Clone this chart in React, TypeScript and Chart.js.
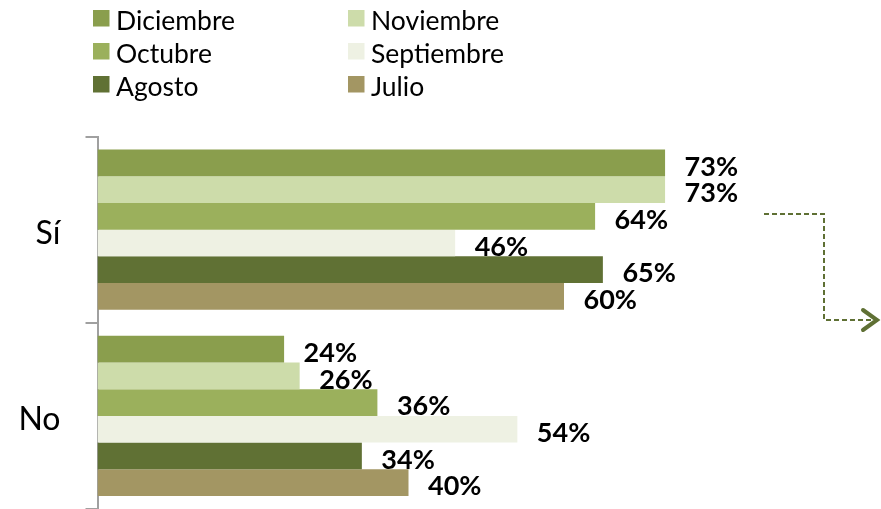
import React, { useEffect, useRef } from "react";
import { Chart, registerables } from "chart.js";

Chart.register(...registerables);

const categories = ["Sí", "No"];
const seriesNames = ["Diciembre", "Noviembre", "Octubre", "Septiembre", "Agosto", "Julio"];
const diciembre = [73, 24];
const noviembre = [73, 26];
const octubre = [64, 36];
const septiembre = [46, 54];
const agosto = [65, 34];
const julio = [60, 40];
const seriesValues = [diciembre, noviembre, octubre, septiembre, agosto, julio];
const seriesColors = ["#8a9e4d", "#cddcaa", "#9bb05c", "#eef1e3", "#607134", "#a39663"];

const FONT = "Lato, 'Open Sans', sans-serif";

const legendPlugin = {
  id: "gridLegend",
  afterDraw(chart: any) {
    const ctx = chart.ctx;
    ctx.save();
    const colX = [93, 348];
    const box = 16.5;
    chart.data.datasets.forEach((ds: any, i: number) => {
      const col = i % 2;
      const row = Math.floor(i / 2);
      const x = colX[col];
      const top = 10 + row * 33;
      ctx.fillStyle = ds.backgroundColor;
      ctx.fillRect(x, top, box, box);
      ctx.fillStyle = "#000";
      ctx.font = `26.5px ${FONT}`;
      ctx.textBaseline = "alphabetic";
      ctx.textAlign = "left";
      ctx.fillText(ds.label, x + box + 6.5, top + 19.5);
    });
    ctx.restore();
  },
};

const valueLabelPlugin = {
  id: "valueLabels",
  afterDatasetsDraw(chart: any) {
    const ctx = chart.ctx;
    ctx.save();
    ctx.font = `bold 27px ${FONT}`;
    ctx.fillStyle = "#000";
    ctx.textAlign = "left";
    ctx.textBaseline = "middle";
    chart.data.datasets.forEach((ds: any, di: number) => {
      const meta = chart.getDatasetMeta(di);
      meta.data.forEach((el: any, i: number) => {
        ctx.fillText(`${ds.data[i]}%`, el.x + 19.5, el.y + 4);
      });
    });
    ctx.restore();
  },
};

const arrowPlugin = {
  id: "arrowDeco",
  afterDraw(chart: any) {
    const ctx = chart.ctx;
    ctx.save();
    ctx.strokeStyle = "#5f7034";
    ctx.lineWidth = 2;
    ctx.setLineDash([5, 3]);
    ctx.beginPath();
    ctx.moveTo(764, 214);
    ctx.lineTo(824, 214);
    ctx.lineTo(824, 320);
    ctx.lineTo(872, 320);
    ctx.stroke();
    ctx.setLineDash([]);
    ctx.lineWidth = 4;
    ctx.lineCap = "round";
    ctx.beginPath();
    ctx.moveTo(863, 310);
    ctx.lineTo(877, 320);
    ctx.lineTo(863, 330);
    ctx.stroke();
    ctx.restore();
  },
};

export default function App() {
  const ref = useRef<HTMLCanvasElement | null>(null);

  useEffect(() => {
    if (!ref.current) return;
    const chart = new Chart(ref.current, {
      type: "bar",
      data: {
        labels: categories,
        datasets: seriesNames.map((name, i) => ({
          label: name,
          data: seriesValues[i],
          backgroundColor: seriesColors[i],
          borderWidth: 0,
          barPercentage: 1,
          categoryPercentage: 0.86,
        })),
      },
      options: {
        indexAxis: "y",
        animation: false,
        responsive: false,
        maintainAspectRatio: false,
        layout: { padding: { top: 136.5, right: 6, bottom: 0, left: 0 } },
        plugins: {
          legend: { display: false },
          tooltip: { enabled: false },
        },
        scales: {
          x: { display: false, min: 0, max: 100 },
          y: {
            display: true,
            grid: {
              display: true,
              offset: true,
              drawOnChartArea: false,
              drawTicks: true,
              tickLength: 12,
              color: "#a0a0a0",
              lineWidth: 2,
            },
            border: { display: true, color: "#a0a0a0", width: 2 },
            ticks: {
              color: "#000",
              font: { family: FONT, size: 32 },
              padding: 25,
              labelOffset: 4,
            },
            afterFit(scale: any) {
              scale.width = 97.5;
              scale.paddingTop = 0;
              scale.paddingBottom = 0;
            },
          },
        },
      },
      plugins: [legendPlugin, valueLabelPlugin, arrowPlugin],
    });
    return () => chart.destroy();
  }, []);

  return (
    <div style={{ position: "absolute", left: 0, top: 0, width: 881, height: 509, background: "#fff" }}>
      <canvas ref={ref} width={881} height={509} style={{ display: "block" }} />
    </div>
  );
}
